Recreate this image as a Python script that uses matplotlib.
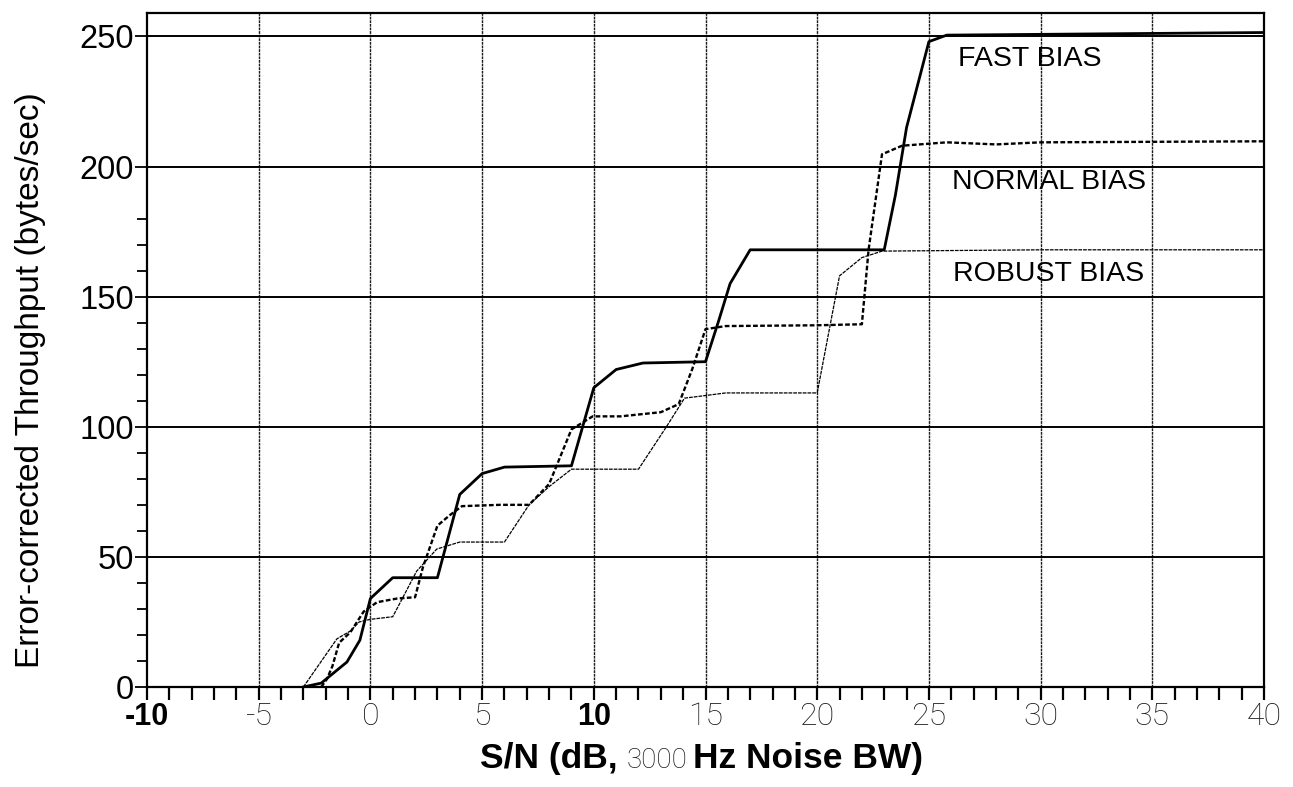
import matplotlib
matplotlib.use("Agg")
import matplotlib.pyplot as plt
from matplotlib.ticker import MultipleLocator, FixedLocator

# ---- data ----
fast_x = [-3.0, -2.2, -1.05, -0.47, 0.0, 1.0, 3.0, 4.0, 5.0, 6.0, 9.0, 10.0, 11.0, 12.2,
          15.0, 15.6, 16.1, 17.0, 23.0, 23.5, 24.0, 25.0, 25.8, 40.0]
fast_y = [0, 1.5, 9.6, 18, 34, 42, 42, 74, 82, 84.5, 85, 115, 122, 124.5,
          125, 141, 155, 168, 168, 189, 215, 248, 250.5, 251.5]

normal_x = [-2.2, -1.95, -1.7, -1.4, -0.9, -0.3, 0.3, 1.2, 2.0, 2.35, 3.0, 3.55, 4.1, 5.8,
            7.1, 8.0, 9.0, 9.95, 11.2, 13.0, 13.8, 14.4, 15.0, 15.9, 20.0, 22.0, 22.3,
            22.9, 23.8, 25.8, 28.0, 30.0, 40.0]
normal_y = [0, 3, 8, 17, 21, 29, 32.6, 34, 34.5, 46, 62, 66, 69.5, 70,
            70, 78, 99, 104, 104, 105.6, 108.7, 122, 137.5, 138.7, 139, 139.4, 168,
            204.7, 208, 209.3, 208.5, 209.3, 209.7]

robust_x = [-3.0, -1.5, -0.9, -0.5, 0.0, 1.0, 2.07, 2.97, 4.0, 6.0, 7.1, 8.0, 9.0, 12.0,
            13.25, 14.06, 15.0, 15.9, 20.0, 21.0, 22.0, 22.9, 30.0, 40.0]
robust_y = [0, 18.5, 21.5, 25, 26, 27, 44.5, 53, 55.7, 55.7, 70, 77, 83.7, 83.7,
            100, 111, 112, 113, 113, 158, 165, 167.5, 168, 168]

series_labels = ["FAST BIAS", "NORMAL BIAS", "ROBUST BIAS"]
label_pos = [(26.3, 241.5), (26.05, 194.0), (26.1, 158.6)]

x_ticks = [-10, -5, 0, 5, 10, 15, 20, 25, 30, 35, 40]
x_tick_labels = ["-10", "-5", "0", "5", "10", "15", "20", "25", "30", "35", "40"]
x_bold_ticks = ["-10", "10"]
y_ticks = [0, 50, 100, 150, 200, 250]
y_minor = [10, 20, 30, 40, 60, 70, 80, 90, 110, 120, 130, 140, 160, 170, 180]

W, H = 1293, 787
fig = plt.figure(figsize=(W / 100, H / 100), dpi=100)
ax = fig.add_axes([147 / W, 1 - 687 / H, (1264 - 147) / W, (687 - 13) / H])
ax.set_xlim(-10, 40)
ax.set_ylim(0, 259)

# grid
for gx in [-5, 0, 5, 10, 15, 20, 25, 30, 35]:
    ax.axvline(gx, color="0.1", lw=1.0, ls=(0, (2, 0.6)), zorder=1)
for gy in [50, 100, 150, 200, 250]:
    ax.axhline(gy, color="black", lw=1.4, zorder=1)

ax.plot(robust_x, robust_y, color="black", lw=0.9, ls=(0, (3, 0.8)), zorder=3)
ax.plot(normal_x, normal_y, color="black", lw=1.7, ls=(0, (2, 1)), zorder=3)
ax.plot(fast_x, fast_y, color="black", lw=2.0, solid_joinstyle="round", zorder=4)

for lab, (lx, ly) in zip(series_labels, label_pos):
    ax.text(lx, ly, lab, fontsize=20.5, family="Liberation Sans", va="center", ha="left",
            zorder=5)

for sp in ax.spines.values():
    sp.set_linewidth(1.6)
    sp.set_color("black")

ax.set_xticks(x_ticks)
ax.set_xticklabels(x_tick_labels)
ax.xaxis.set_minor_locator(MultipleLocator(1))
ax.tick_params(axis="x", which="both", direction="out", length=9.5, width=1.6, pad=1)
for t in ax.get_xticklabels():
    if t.get_text() in x_bold_ticks:
        t.set_family("Liberation Sans")
        t.set_fontweight("bold")
        t.set_fontsize(22)
    else:
        t.set_family("Roboto")
        t.set_fontweight("light")
        t.set_fontsize(23)
        t.set_color("0.1")

ax.set_yticks(y_ticks)
ax.set_yticklabels([str(v) for v in y_ticks], family="Liberation Sans", fontsize=23.5)
ax.yaxis.set_minor_locator(FixedLocator(y_minor))
ax.tick_params(axis="y", which="major", direction="out", length=9, width=1.3, pad=0.5)
ax.tick_params(axis="y", which="minor", direction="out", length=7, width=1.3)

# axis labels
fig.text(31 / W, 1 - 380 / H, "Error-corrected Throughput (bytes/sec)", rotation=90,
         family="Liberation Sans", fontsize=24, ha="center", va="center")
base = 1 - 768 / H
fig.text(480 / W, base, "S/N (dB,", family="Liberation Sans", fontweight="bold",
         fontsize=25.5, ha="left", va="baseline")
fig.text(627 / W, base, "3000", family="Roboto", fontweight="light",
         fontsize=20, ha="left", va="baseline", color="0.1")
fig.text(693 / W, base, "Hz Noise BW)", family="Liberation Sans", fontweight="bold",
         fontsize=25.5, ha="left", va="baseline")

fig.savefig("out.png", dpi=100)
